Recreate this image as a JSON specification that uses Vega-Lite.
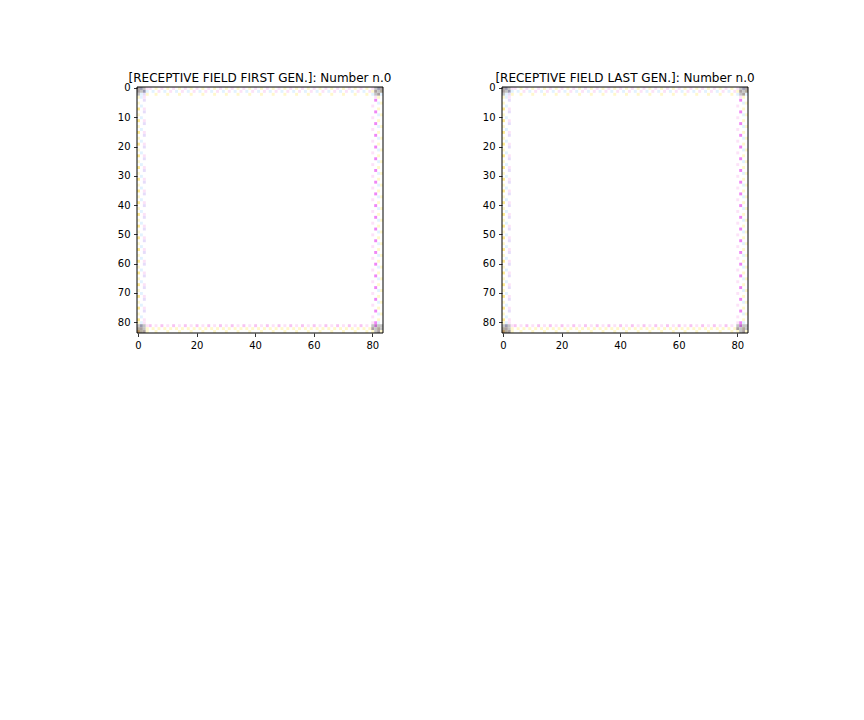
{
"$schema": "https://vega.github.io/schema/vega-lite/v6.json",
"padding": {"left": 117, "top": 71, "right": 5, "bottom": 5},
"background": "white",
"bounds": "flush",
"spacing": 119,
"datasets": {"px": [
{"c":4,"r":0,"k":"p"},{"c":6,"r":0,"k":"y"},{"c":5,"r":1,"k":"C"},{"c":7,"r":1,"k":"p"},{"c":6,"r":2,"k":"y"},
{"c":8,"r":0,"k":"p"},{"c":10,"r":0,"k":"y"},{"c":9,"r":1,"k":"C"},{"c":11,"r":1,"k":"p"},{"c":10,"r":2,"k":"y"},
{"c":12,"r":0,"k":"p"},{"c":14,"r":0,"k":"y"},{"c":13,"r":1,"k":"C"},{"c":15,"r":1,"k":"p"},{"c":14,"r":2,"k":"y"},
{"c":16,"r":0,"k":"p"},{"c":18,"r":0,"k":"y"},{"c":17,"r":1,"k":"C"},{"c":19,"r":1,"k":"p"},{"c":18,"r":2,"k":"y"},
{"c":20,"r":0,"k":"p"},{"c":22,"r":0,"k":"y"},{"c":21,"r":1,"k":"C"},{"c":23,"r":1,"k":"p"},{"c":22,"r":2,"k":"y"},
{"c":24,"r":0,"k":"p"},{"c":26,"r":0,"k":"y"},{"c":25,"r":1,"k":"C"},{"c":27,"r":1,"k":"p"},{"c":26,"r":2,"k":"y"},
{"c":28,"r":0,"k":"p"},{"c":30,"r":0,"k":"y"},{"c":29,"r":1,"k":"C"},{"c":31,"r":1,"k":"p"},{"c":30,"r":2,"k":"y"},
{"c":32,"r":0,"k":"p"},{"c":34,"r":0,"k":"y"},{"c":33,"r":1,"k":"C"},{"c":35,"r":1,"k":"p"},{"c":34,"r":2,"k":"y"},
{"c":36,"r":0,"k":"p"},{"c":38,"r":0,"k":"y"},{"c":37,"r":1,"k":"C"},{"c":39,"r":1,"k":"p"},{"c":38,"r":2,"k":"y"},
{"c":40,"r":0,"k":"p"},{"c":42,"r":0,"k":"y"},{"c":41,"r":1,"k":"C"},{"c":43,"r":1,"k":"p"},{"c":42,"r":2,"k":"y"},
{"c":44,"r":0,"k":"p"},{"c":46,"r":0,"k":"y"},{"c":45,"r":1,"k":"C"},{"c":47,"r":1,"k":"p"},{"c":46,"r":2,"k":"y"},
{"c":48,"r":0,"k":"p"},{"c":50,"r":0,"k":"y"},{"c":49,"r":1,"k":"C"},{"c":51,"r":1,"k":"p"},{"c":50,"r":2,"k":"y"},
{"c":52,"r":0,"k":"p"},{"c":54,"r":0,"k":"y"},{"c":53,"r":1,"k":"C"},{"c":55,"r":1,"k":"p"},{"c":54,"r":2,"k":"y"},
{"c":56,"r":0,"k":"p"},{"c":58,"r":0,"k":"y"},{"c":57,"r":1,"k":"C"},{"c":59,"r":1,"k":"p"},{"c":58,"r":2,"k":"y"},
{"c":60,"r":0,"k":"p"},{"c":62,"r":0,"k":"y"},{"c":61,"r":1,"k":"C"},{"c":63,"r":1,"k":"p"},{"c":62,"r":2,"k":"y"},
{"c":64,"r":0,"k":"p"},{"c":66,"r":0,"k":"y"},{"c":65,"r":1,"k":"C"},{"c":67,"r":1,"k":"p"},{"c":66,"r":2,"k":"y"},
{"c":68,"r":0,"k":"p"},{"c":70,"r":0,"k":"y"},{"c":69,"r":1,"k":"C"},{"c":71,"r":1,"k":"p"},{"c":70,"r":2,"k":"y"},
{"c":72,"r":0,"k":"p"},{"c":74,"r":0,"k":"y"},{"c":73,"r":1,"k":"C"},{"c":75,"r":1,"k":"p"},{"c":74,"r":2,"k":"y"},
{"c":76,"r":0,"k":"p"},{"c":78,"r":0,"k":"y"},{"c":77,"r":1,"k":"C"},{"c":79,"r":1,"k":"p"},{"c":78,"r":2,"k":"y"},

{"c":0,"r":7,"k":"Y"},{"c":0,"r":5,"k":"y"},{"c":1,"r":6,"k":"C"},{"c":2,"r":7,"k":"p"},{"c":2,"r":4,"k":"L"},
{"c":0,"r":11,"k":"Y"},{"c":0,"r":9,"k":"y"},{"c":1,"r":10,"k":"C"},{"c":2,"r":11,"k":"p"},{"c":2,"r":8,"k":"L"},
{"c":0,"r":15,"k":"Y"},{"c":0,"r":13,"k":"y"},{"c":1,"r":14,"k":"C"},{"c":2,"r":15,"k":"p"},{"c":2,"r":12,"k":"L"},
{"c":0,"r":19,"k":"Y"},{"c":0,"r":17,"k":"y"},{"c":1,"r":18,"k":"C"},{"c":2,"r":19,"k":"p"},{"c":2,"r":16,"k":"L"},
{"c":0,"r":23,"k":"Y"},{"c":0,"r":21,"k":"y"},{"c":1,"r":22,"k":"C"},{"c":2,"r":23,"k":"p"},{"c":2,"r":20,"k":"L"},
{"c":0,"r":27,"k":"Y"},{"c":0,"r":25,"k":"y"},{"c":1,"r":26,"k":"C"},{"c":2,"r":27,"k":"p"},{"c":2,"r":24,"k":"L"},
{"c":0,"r":31,"k":"Y"},{"c":0,"r":29,"k":"y"},{"c":1,"r":30,"k":"C"},{"c":2,"r":31,"k":"p"},{"c":2,"r":28,"k":"L"},
{"c":0,"r":35,"k":"Y"},{"c":0,"r":33,"k":"y"},{"c":1,"r":34,"k":"C"},{"c":2,"r":35,"k":"p"},{"c":2,"r":32,"k":"L"},
{"c":0,"r":39,"k":"Y"},{"c":0,"r":37,"k":"y"},{"c":1,"r":38,"k":"C"},{"c":2,"r":39,"k":"p"},{"c":2,"r":36,"k":"L"},
{"c":0,"r":43,"k":"Y"},{"c":0,"r":41,"k":"y"},{"c":1,"r":42,"k":"C"},{"c":2,"r":43,"k":"p"},{"c":2,"r":40,"k":"L"},
{"c":0,"r":47,"k":"Y"},{"c":0,"r":45,"k":"y"},{"c":1,"r":46,"k":"C"},{"c":2,"r":47,"k":"p"},{"c":2,"r":44,"k":"L"},
{"c":0,"r":51,"k":"Y"},{"c":0,"r":49,"k":"y"},{"c":1,"r":50,"k":"C"},{"c":2,"r":51,"k":"p"},{"c":2,"r":48,"k":"L"},
{"c":0,"r":55,"k":"Y"},{"c":0,"r":53,"k":"y"},{"c":1,"r":54,"k":"C"},{"c":2,"r":55,"k":"p"},{"c":2,"r":52,"k":"L"},
{"c":0,"r":59,"k":"Y"},{"c":0,"r":57,"k":"y"},{"c":1,"r":58,"k":"C"},{"c":2,"r":59,"k":"p"},{"c":2,"r":56,"k":"L"},
{"c":0,"r":63,"k":"Y"},{"c":0,"r":61,"k":"y"},{"c":1,"r":62,"k":"C"},{"c":2,"r":63,"k":"p"},{"c":2,"r":60,"k":"L"},
{"c":0,"r":67,"k":"Y"},{"c":0,"r":65,"k":"y"},{"c":1,"r":66,"k":"C"},{"c":2,"r":67,"k":"p"},{"c":2,"r":64,"k":"L"},
{"c":0,"r":71,"k":"Y"},{"c":0,"r":69,"k":"y"},{"c":1,"r":70,"k":"C"},{"c":2,"r":71,"k":"p"},{"c":2,"r":68,"k":"L"},
{"c":0,"r":75,"k":"Y"},{"c":0,"r":73,"k":"y"},{"c":1,"r":74,"k":"C"},{"c":2,"r":75,"k":"p"},{"c":2,"r":72,"k":"L"},
{"c":0,"r":79,"k":"Y"},{"c":0,"r":77,"k":"y"},{"c":1,"r":78,"k":"C"},{"c":2,"r":79,"k":"p"},{"c":2,"r":76,"k":"L"},

{"c":81,"r":4,"k":"M"},{"c":80,"r":6,"k":"p"},{"c":82,"r":5,"k":"C"},{"c":83,"r":5,"k":"y"},{"c":82,"r":7,"k":"y"},
{"c":81,"r":8,"k":"M"},{"c":80,"r":10,"k":"p"},{"c":82,"r":9,"k":"C"},{"c":83,"r":9,"k":"y"},{"c":82,"r":11,"k":"y"},
{"c":81,"r":12,"k":"M"},{"c":80,"r":14,"k":"p"},{"c":82,"r":13,"k":"C"},{"c":83,"r":13,"k":"y"},{"c":82,"r":15,"k":"y"},
{"c":81,"r":16,"k":"M"},{"c":80,"r":18,"k":"p"},{"c":82,"r":17,"k":"C"},{"c":83,"r":17,"k":"y"},{"c":82,"r":19,"k":"y"},
{"c":81,"r":20,"k":"M"},{"c":80,"r":22,"k":"p"},{"c":82,"r":21,"k":"C"},{"c":83,"r":21,"k":"y"},{"c":82,"r":23,"k":"y"},
{"c":81,"r":24,"k":"M"},{"c":80,"r":26,"k":"p"},{"c":82,"r":25,"k":"C"},{"c":83,"r":25,"k":"y"},{"c":82,"r":27,"k":"y"},
{"c":81,"r":28,"k":"M"},{"c":80,"r":30,"k":"p"},{"c":82,"r":29,"k":"C"},{"c":83,"r":29,"k":"y"},{"c":82,"r":31,"k":"y"},
{"c":81,"r":32,"k":"M"},{"c":80,"r":34,"k":"p"},{"c":82,"r":33,"k":"C"},{"c":83,"r":33,"k":"y"},{"c":82,"r":35,"k":"y"},
{"c":81,"r":36,"k":"M"},{"c":80,"r":38,"k":"p"},{"c":82,"r":37,"k":"C"},{"c":83,"r":37,"k":"y"},{"c":82,"r":39,"k":"y"},
{"c":81,"r":40,"k":"M"},{"c":80,"r":42,"k":"p"},{"c":82,"r":41,"k":"C"},{"c":83,"r":41,"k":"y"},{"c":82,"r":43,"k":"y"},
{"c":81,"r":44,"k":"M"},{"c":80,"r":46,"k":"p"},{"c":82,"r":45,"k":"C"},{"c":83,"r":45,"k":"y"},{"c":82,"r":47,"k":"y"},
{"c":81,"r":48,"k":"M"},{"c":80,"r":50,"k":"p"},{"c":82,"r":49,"k":"C"},{"c":83,"r":49,"k":"y"},{"c":82,"r":51,"k":"y"},
{"c":81,"r":52,"k":"M"},{"c":80,"r":54,"k":"p"},{"c":82,"r":53,"k":"C"},{"c":83,"r":53,"k":"y"},{"c":82,"r":55,"k":"y"},
{"c":81,"r":56,"k":"M"},{"c":80,"r":58,"k":"p"},{"c":82,"r":57,"k":"C"},{"c":83,"r":57,"k":"y"},{"c":82,"r":59,"k":"y"},
{"c":81,"r":60,"k":"M"},{"c":80,"r":62,"k":"p"},{"c":82,"r":61,"k":"C"},{"c":83,"r":61,"k":"y"},{"c":82,"r":63,"k":"y"},
{"c":81,"r":64,"k":"M"},{"c":80,"r":66,"k":"p"},{"c":82,"r":65,"k":"C"},{"c":83,"r":65,"k":"y"},{"c":82,"r":67,"k":"y"},
{"c":81,"r":68,"k":"M"},{"c":80,"r":70,"k":"p"},{"c":82,"r":69,"k":"C"},{"c":83,"r":69,"k":"y"},{"c":82,"r":71,"k":"y"},
{"c":81,"r":72,"k":"M"},{"c":80,"r":74,"k":"p"},{"c":82,"r":73,"k":"C"},{"c":83,"r":73,"k":"y"},{"c":82,"r":75,"k":"y"},
{"c":81,"r":76,"k":"M"},{"c":80,"r":78,"k":"p"},{"c":82,"r":77,"k":"C"},{"c":83,"r":77,"k":"y"},{"c":82,"r":79,"k":"y"},

{"c":4,"r":81,"k":"P"},{"c":6,"r":81,"k":"p"},{"c":5,"r":82,"k":"y"},{"c":7,"r":82,"k":"y"},{"c":6,"r":83,"k":"y"},
{"c":8,"r":81,"k":"P"},{"c":10,"r":81,"k":"p"},{"c":9,"r":82,"k":"y"},{"c":11,"r":82,"k":"y"},{"c":10,"r":83,"k":"y"},
{"c":12,"r":81,"k":"P"},{"c":14,"r":81,"k":"p"},{"c":13,"r":82,"k":"y"},{"c":15,"r":82,"k":"y"},{"c":14,"r":83,"k":"y"},
{"c":16,"r":81,"k":"P"},{"c":18,"r":81,"k":"p"},{"c":17,"r":82,"k":"y"},{"c":19,"r":82,"k":"y"},{"c":18,"r":83,"k":"y"},
{"c":20,"r":81,"k":"P"},{"c":22,"r":81,"k":"p"},{"c":21,"r":82,"k":"y"},{"c":23,"r":82,"k":"y"},{"c":22,"r":83,"k":"y"},
{"c":24,"r":81,"k":"P"},{"c":26,"r":81,"k":"p"},{"c":25,"r":82,"k":"y"},{"c":27,"r":82,"k":"y"},{"c":26,"r":83,"k":"y"},
{"c":28,"r":81,"k":"P"},{"c":30,"r":81,"k":"p"},{"c":29,"r":82,"k":"y"},{"c":31,"r":82,"k":"y"},{"c":30,"r":83,"k":"y"},
{"c":32,"r":81,"k":"P"},{"c":34,"r":81,"k":"p"},{"c":33,"r":82,"k":"y"},{"c":35,"r":82,"k":"y"},{"c":34,"r":83,"k":"y"},
{"c":36,"r":81,"k":"P"},{"c":38,"r":81,"k":"p"},{"c":37,"r":82,"k":"y"},{"c":39,"r":82,"k":"y"},{"c":38,"r":83,"k":"y"},
{"c":40,"r":81,"k":"P"},{"c":42,"r":81,"k":"p"},{"c":41,"r":82,"k":"y"},{"c":43,"r":82,"k":"y"},{"c":42,"r":83,"k":"y"},
{"c":44,"r":81,"k":"P"},{"c":46,"r":81,"k":"p"},{"c":45,"r":82,"k":"y"},{"c":47,"r":82,"k":"y"},{"c":46,"r":83,"k":"y"},
{"c":48,"r":81,"k":"P"},{"c":50,"r":81,"k":"p"},{"c":49,"r":82,"k":"y"},{"c":51,"r":82,"k":"y"},{"c":50,"r":83,"k":"y"},
{"c":52,"r":81,"k":"P"},{"c":54,"r":81,"k":"p"},{"c":53,"r":82,"k":"y"},{"c":55,"r":82,"k":"y"},{"c":54,"r":83,"k":"y"},
{"c":56,"r":81,"k":"P"},{"c":58,"r":81,"k":"p"},{"c":57,"r":82,"k":"y"},{"c":59,"r":82,"k":"y"},{"c":58,"r":83,"k":"y"},
{"c":60,"r":81,"k":"P"},{"c":62,"r":81,"k":"p"},{"c":61,"r":82,"k":"y"},{"c":63,"r":82,"k":"y"},{"c":62,"r":83,"k":"y"},
{"c":64,"r":81,"k":"P"},{"c":66,"r":81,"k":"p"},{"c":65,"r":82,"k":"y"},{"c":67,"r":82,"k":"y"},{"c":66,"r":83,"k":"y"},
{"c":68,"r":81,"k":"P"},{"c":70,"r":81,"k":"p"},{"c":69,"r":82,"k":"y"},{"c":71,"r":82,"k":"y"},{"c":70,"r":83,"k":"y"},
{"c":72,"r":81,"k":"P"},{"c":74,"r":81,"k":"p"},{"c":73,"r":82,"k":"y"},{"c":75,"r":82,"k":"y"},{"c":74,"r":83,"k":"y"},
{"c":76,"r":81,"k":"P"},{"c":78,"r":81,"k":"p"},{"c":77,"r":82,"k":"y"},{"c":79,"r":82,"k":"y"},{"c":78,"r":83,"k":"y"},

{"c":0,"r":0,"k":"G1"},{"c":1,"r":0,"k":"G2"},{"c":2,"r":0,"k":"G3"},{"c":3,"r":0,"k":"p"},
{"c":0,"r":1,"k":"G1"},{"c":1,"r":1,"k":"G3"},{"c":2,"r":1,"k":"G2"},{"c":3,"r":1,"k":"C"},
{"c":0,"r":2,"k":"G3"},{"c":1,"r":2,"k":"C"},{"c":2,"r":2,"k":"L"},{"c":3,"r":2,"k":"y"},
{"c":0,"r":3,"k":"y"},{"c":1,"r":3,"k":"C"},{"c":2,"r":3,"k":"p"},
{"c":80,"r":0,"k":"p"},{"c":81,"r":0,"k":"G3"},{"c":82,"r":0,"k":"G2"},{"c":83,"r":0,"k":"G1"},
{"c":80,"r":1,"k":"y"},{"c":81,"r":1,"k":"G1"},{"c":82,"r":1,"k":"G3"},{"c":83,"r":1,"k":"G4"},
{"c":80,"r":2,"k":"C"},{"c":81,"r":2,"k":"G3"},{"c":82,"r":2,"k":"G1"},{"c":83,"r":2,"k":"C"},
{"c":81,"r":3,"k":"p"},{"c":82,"r":3,"k":"y"},
{"c":0,"r":80,"k":"y"},{"c":1,"r":80,"k":"C"},{"c":2,"r":80,"k":"p"},
{"c":0,"r":81,"k":"G3"},{"c":1,"r":81,"k":"G2"},{"c":2,"r":81,"k":"G3"},{"c":3,"r":81,"k":"p"},
{"c":0,"r":82,"k":"G4"},{"c":1,"r":82,"k":"G1"},{"c":2,"r":82,"k":"G3"},{"c":3,"r":82,"k":"y"},
{"c":0,"r":83,"k":"B"},{"c":1,"r":83,"k":"G4"},{"c":2,"r":83,"k":"G1"},{"c":3,"r":83,"k":"y"},
{"c":80,"r":80,"k":"p"},{"c":81,"r":80,"k":"M"},{"c":82,"r":80,"k":"C"},
{"c":80,"r":81,"k":"G3"},{"c":81,"r":81,"k":"V"},{"c":82,"r":81,"k":"G3"},{"c":83,"r":81,"k":"G3"},
{"c":80,"r":82,"k":"G1"},{"c":81,"r":82,"k":"G3"},{"c":82,"r":82,"k":"G4"},{"c":83,"r":82,"k":"G3"},
{"c":80,"r":83,"k":"y"},{"c":81,"r":83,"k":"G3"},{"c":82,"r":83,"k":"G1"},{"c":83,"r":83,"k":"y"}
]},
"hconcat": [
{
"width": 246, "height": 246,
"title": {"text": "[RECEPTIVE FIELD FIRST GEN.]: Number n.0"},
"layer": [
{
"data": {"name": "px"},
"mark": {"type": "rect"},
"encoding": {
"x": {"field": "c", "type": "ordinal", "scale": {"domain": [0,1,2,3,4,5,6,7,8,9,10,11,12,13,14,15,16,17,18,19,20,21,22,23,24,25,26,27,28,29,30,31,32,33,34,35,36,37,38,39,40,41,42,43,44,45,46,47,48,49,50,51,52,53,54,55,56,57,58,59,60,61,62,63,64,65,66,67,68,69,70,71,72,73,74,75,76,77,78,79,80,81,82,83], "paddingInner": 0, "paddingOuter": 0}, "axis": {"values": [0,20,40,60,80], "labelAngle": 0, "title": null}},
"y": {"field": "r", "type": "ordinal", "scale": {"domain": [0,1,2,3,4,5,6,7,8,9,10,11,12,13,14,15,16,17,18,19,20,21,22,23,24,25,26,27,28,29,30,31,32,33,34,35,36,37,38,39,40,41,42,43,44,45,46,47,48,49,50,51,52,53,54,55,56,57,58,59,60,61,62,63,64,65,66,67,68,69,70,71,72,73,74,75,76,77,78,79,80,81,82,83], "paddingInner": 0, "paddingOuter": 0}, "axis": {"values": [0,10,20,30,40,50,60,70,80], "title": null}},
"color": {"field": "k", "type": "nominal", "legend": null, "scale": {"domain": ["Y","y","P","p","M","C","L","G1","G2","G3","G4","B","V"], "range": ["#ffe98c","#fff8cc","#f8c4f2","#fce2f8","#ef86f5","#e2f2ff","#e6dcfa","#aaa0a0","#9898b0","#c4c4c4","#b0a898","#b08c5c","#c070c8"]}}
}
},
{
"data": {"values": [{}]},
"mark": {"type": "rect", "fill": null, "stroke": "#000000", "strokeWidth": 1},
"encoding": {"x": {"value": 0}, "x2": {"value": "width"}, "y": {"value": 0}, "y2": {"value": "height"}}
}
]
},
{
"width": 246, "height": 246,
"title": {"text": "[RECEPTIVE FIELD LAST GEN.]: Number n.0"},
"layer": [
{
"data": {"name": "px"},
"mark": {"type": "rect"},
"encoding": {
"x": {"field": "c", "type": "ordinal", "scale": {"domain": [0,1,2,3,4,5,6,7,8,9,10,11,12,13,14,15,16,17,18,19,20,21,22,23,24,25,26,27,28,29,30,31,32,33,34,35,36,37,38,39,40,41,42,43,44,45,46,47,48,49,50,51,52,53,54,55,56,57,58,59,60,61,62,63,64,65,66,67,68,69,70,71,72,73,74,75,76,77,78,79,80,81,82,83], "paddingInner": 0, "paddingOuter": 0}, "axis": {"values": [0,20,40,60,80], "labelAngle": 0, "title": null}},
"y": {"field": "r", "type": "ordinal", "scale": {"domain": [0,1,2,3,4,5,6,7,8,9,10,11,12,13,14,15,16,17,18,19,20,21,22,23,24,25,26,27,28,29,30,31,32,33,34,35,36,37,38,39,40,41,42,43,44,45,46,47,48,49,50,51,52,53,54,55,56,57,58,59,60,61,62,63,64,65,66,67,68,69,70,71,72,73,74,75,76,77,78,79,80,81,82,83], "paddingInner": 0, "paddingOuter": 0}, "axis": {"values": [0,10,20,30,40,50,60,70,80], "title": null}},
"color": {"field": "k", "type": "nominal", "legend": null, "scale": {"domain": ["Y","y","P","p","M","C","L","G1","G2","G3","G4","B","V"], "range": ["#ffe98c","#fff8cc","#f8c4f2","#fce2f8","#ef86f5","#e2f2ff","#e6dcfa","#aaa0a0","#9898b0","#c4c4c4","#b0a898","#b08c5c","#c070c8"]}}
}
},
{
"data": {"values": [{}]},
"mark": {"type": "rect", "fill": null, "stroke": "#000000", "strokeWidth": 1},
"encoding": {"x": {"value": 0}, "x2": {"value": "width"}, "y": {"value": 0}, "y2": {"value": "height"}}
}
]
}
],
"resolve": {"scale": {"x": "independent", "y": "independent"}},
"config": {
"font": "DejaVu Sans",
"view": {"stroke": null},
"axis": {"domain": false, "grid": false, "ticks": true, "tickSize": 3.5, "tickColor": "#000000", "tickWidth": 0.8, "labelFont": "DejaVu Sans", "labelFontSize": 10, "labelColor": "#000000", "labelPadding": 3.5},
"title": {"font": "DejaVu Sans", "fontSize": 12, "fontWeight": "normal", "color": "#000000", "offset": -2, "anchor": "middle"}
}
}
